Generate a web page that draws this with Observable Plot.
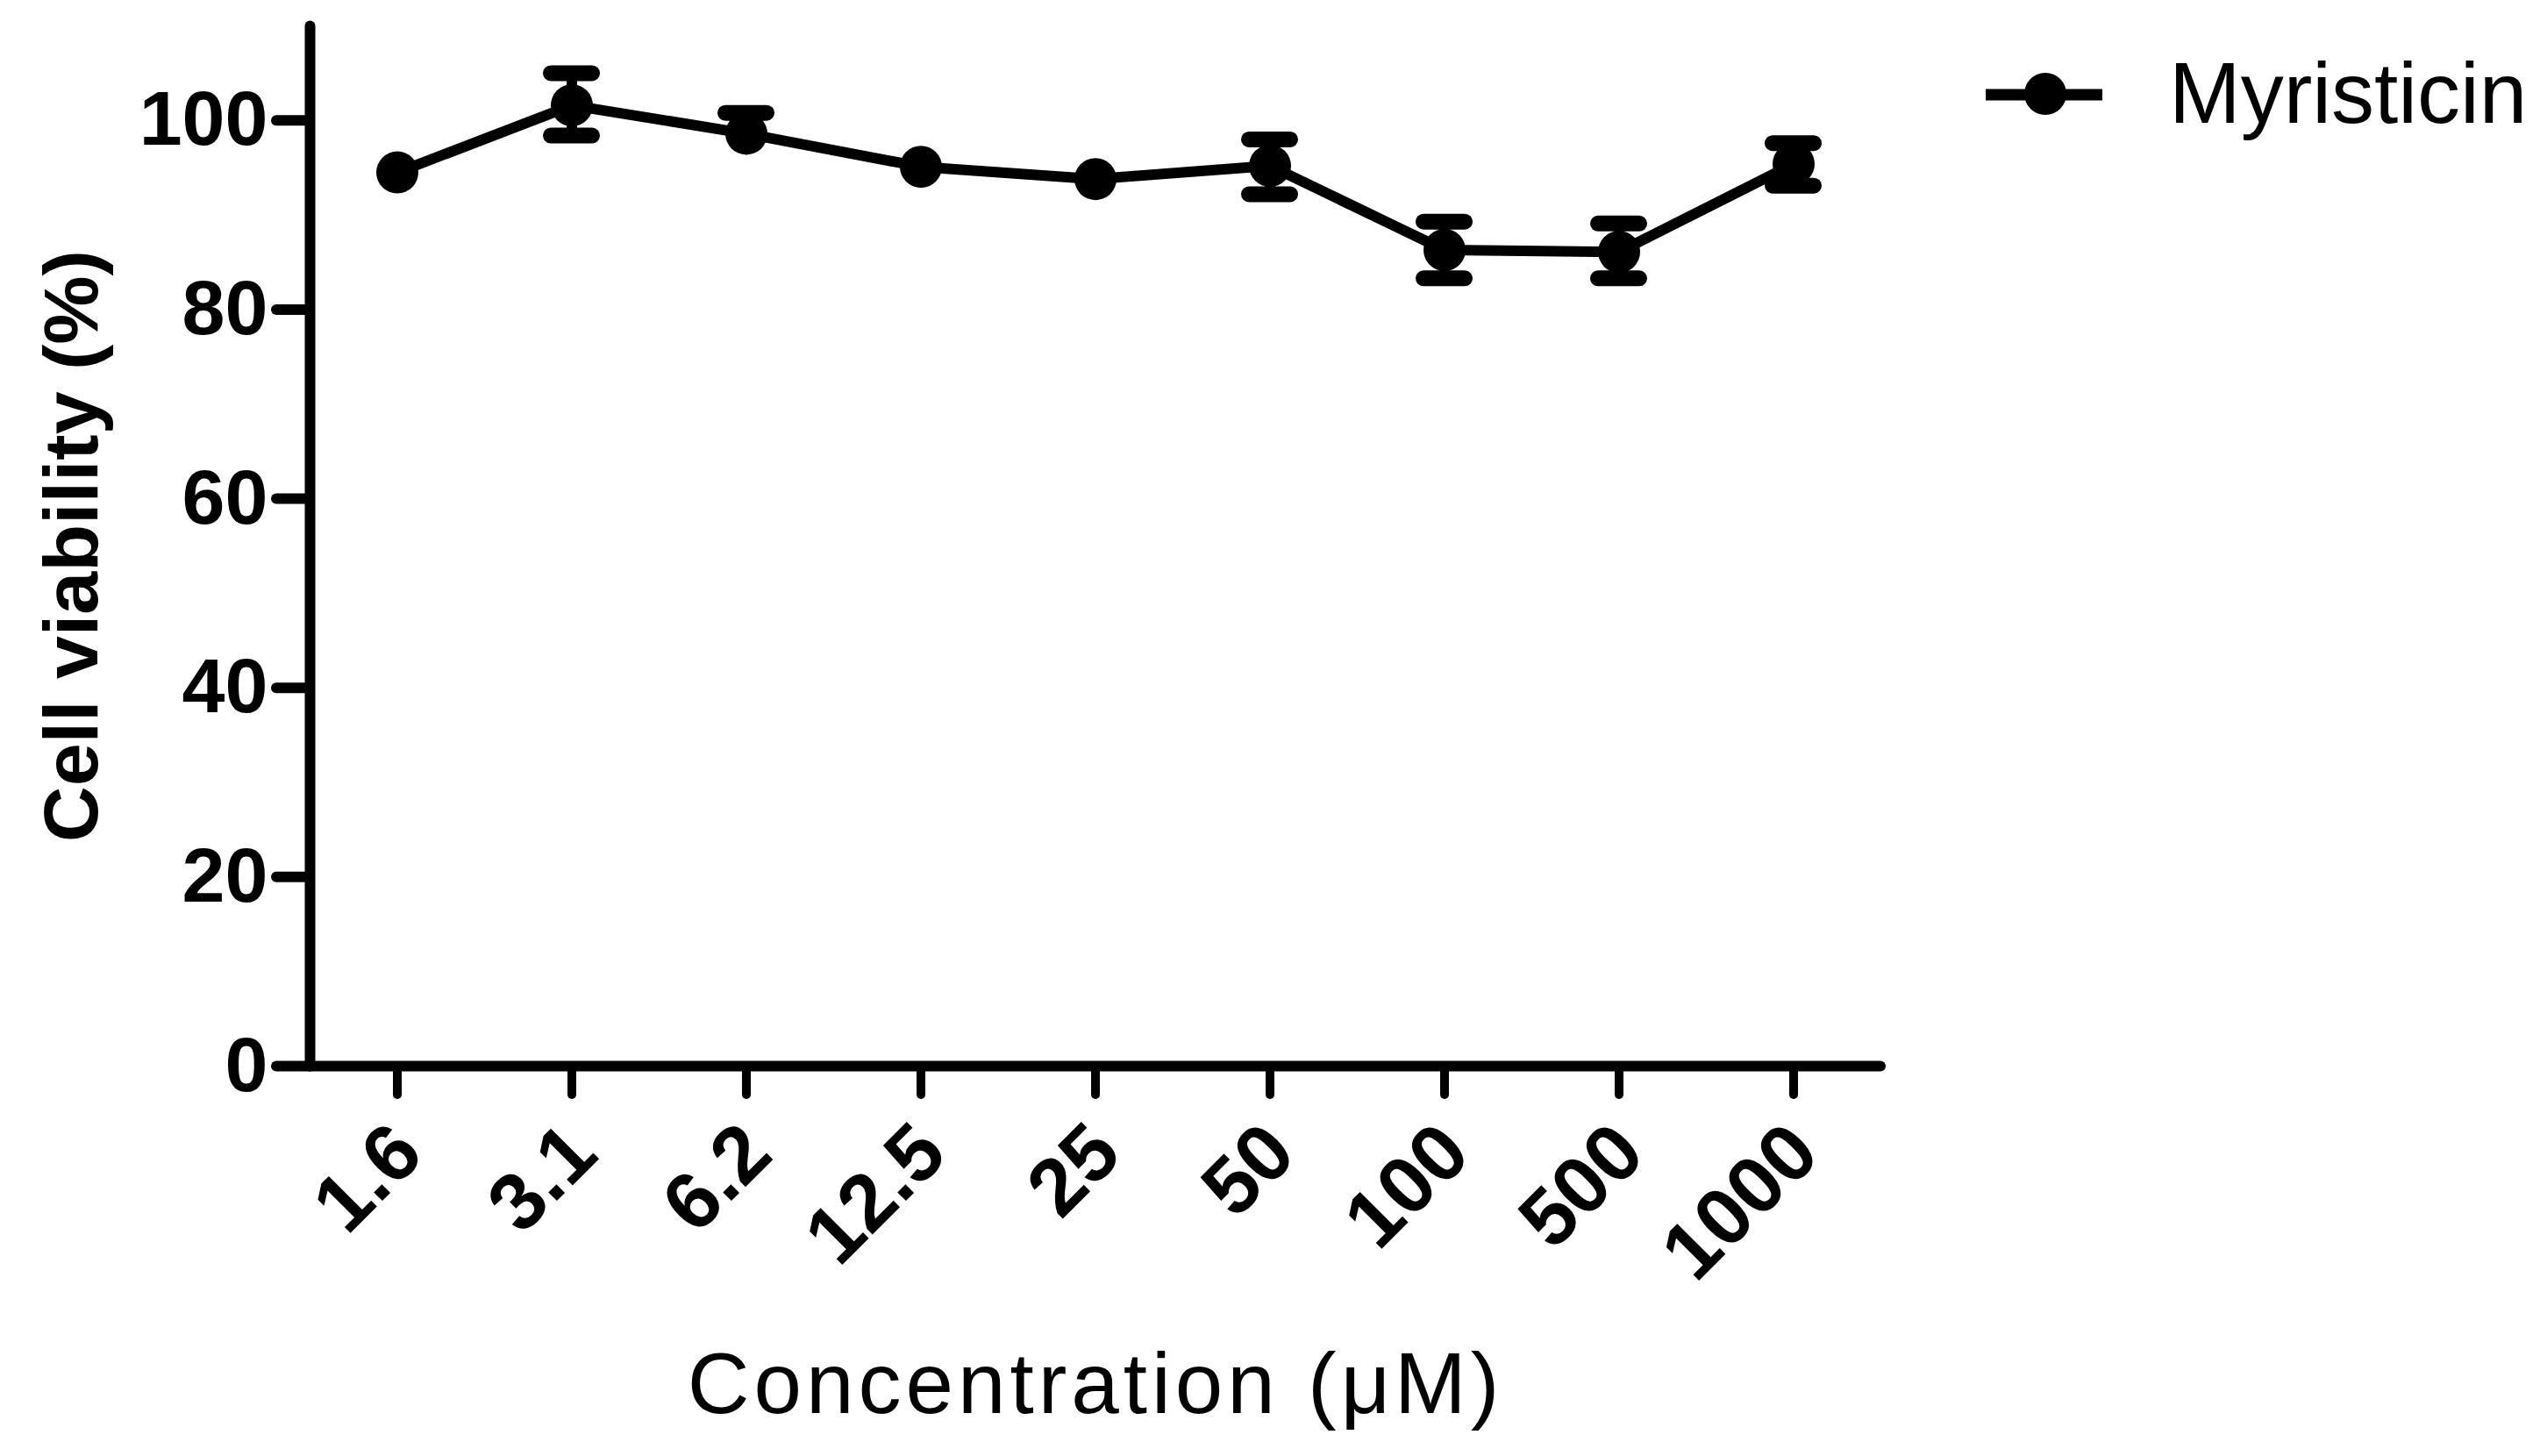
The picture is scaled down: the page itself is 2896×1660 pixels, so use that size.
<!DOCTYPE html>
<html>
<head>
<meta charset="utf-8">
<script src="https://cdn.jsdelivr.net/npm/d3@7"></script>
<script src="https://cdn.jsdelivr.net/npm/@observablehq/plot@0.6"></script>
<style>
  html, body { margin: 0; padding: 0; background: #fff; }
  #wrap { position: relative; width: 2896px; height: 1660px; overflow: hidden; }
  #wrap svg text { fill: #000; }
  g[aria-label="y-axis tick label"] text { font: bold 88px "Liberation Sans", Arial, sans-serif; }
  g[aria-label="x-axis tick label"] text { font: bold 92px "Liberation Sans", Arial, sans-serif; }
  g[aria-label="y-axis label"] text { font: bold 88px "Liberation Sans", Arial, sans-serif; }
  g[aria-label="x-axis label"] text { font: 98px "Liberation Sans", Arial, sans-serif; letter-spacing: 5px; }
  #legend { position: absolute; left: 2200px; top: 0; }
</style>
</head>
<body>
<div id="wrap"></div>
<script>
// Concentrations (µM) and cell viability (%)
const categories = ["1.6", "3.1", "6.2", "12.5", "25", "50", "100", "500", "1000"];
const viability  = [94.5, 101.6, 98.6, 95.1, 93.8, 95.2, 86.3, 86.1, 95.4];
const errUpper   = [94.5, 105.0, 100.8, 95.1, 93.8, 98.0, 89.3, 89.1, 97.6];
const errLower   = [94.5, 98.4, 98.6, 95.1, 93.8, 92.2, 83.3, 83.3, 93.1];
const yTicks     = [0, 20, 40, 60, 80, 100];
const seriesName = "Myristicin";

const rows = categories.map((c, i) => ({conc: c, v: viability[i], hi: errUpper[i], lo: errLower[i]}));
const upperCaps = rows.filter(d => d.hi - d.v > 0.5);
const lowerCaps = rows.filter(d => d.v - d.lo > 0.5);

const chart = Plot.plot({
  width: 2896,
  height: 1660,
  marginLeft: 353,
  marginRight: 752,
  marginTop: 29,
  marginBottom: 445,
  style: {fontFamily: "Liberation Sans, Arial, sans-serif", background: "white", color: "black", overflow: "visible"},
  x: {type: "band", domain: categories, padding: 0},
  y: {domain: [0, 110]},
  marks: [
    Plot.ruleX(rows, {x: "conc", y1: "lo", y2: "hi", stroke: "black", strokeWidth: 12}),
    Plot.tickY(upperCaps, {x: "conc", y: "hi", stroke: "black", strokeWidth: 18, strokeLinecap: "round", insetLeft: 76, insetRight: 76}),
    Plot.tickY(lowerCaps, {x: "conc", y: "lo", stroke: "black", strokeWidth: 18, strokeLinecap: "round", insetLeft: 76, insetRight: 76}),
    Plot.line(rows, {x: "conc", y: "v", stroke: "black", strokeWidth: 12}),
    Plot.dot(rows, {x: "conc", y: "v", r: 24, fill: "black", stroke: "none"}),
    Plot.ruleY([0], {stroke: "black", strokeWidth: 12, strokeLinecap: "round"}),
    Plot.frame({anchor: "left", stroke: "black", strokeWidth: 12, strokeLinecap: "round"}),
    Plot.axisY({
      ticks: yTicks, tickSize: 38, tickPadding: 10, stroke: "black", strokeWidth: 12, strokeLinecap: "round",
      fontSize: 88, fontWeight: "bold",
      label: "Cell viability (%)", labelAnchor: "center", labelOffset: 305, labelArrow: "none"
    }),
    // x tick marks
    Plot.axisX({
      tickSize: 33, tickFormat: () => "", stroke: "black", strokeWidth: 10, strokeLinecap: "round",
      label: null
    }),
    // x tick labels and title
    Plot.axisX({
      tickSize: 0, tickPadding: 83, tickRotate: -45, dx: 12,
      fontSize: 92, fontWeight: "bold",
      label: "Concentration (μM)", labelAnchor: "center", labelOffset: 395, labelArrow: "none"
    })
  ]
});

const wrap = document.getElementById("wrap");
wrap.appendChild(chart);

// Legend (top right)
const ns = "http://www.w3.org/2000/svg";
const leg = document.createElementNS(ns, "svg");
leg.setAttribute("id", "legend");
leg.setAttribute("width", 696);
leg.setAttribute("height", 200);
const ln = document.createElementNS(ns, "line");
ln.setAttribute("x1", 64); ln.setAttribute("x2", 197);
ln.setAttribute("y1", 108); ln.setAttribute("y2", 108);
ln.setAttribute("stroke", "black"); ln.setAttribute("stroke-width", 13);
leg.appendChild(ln);
const c = document.createElementNS(ns, "circle");
c.setAttribute("cx", 132); c.setAttribute("cy", 107); c.setAttribute("r", 24);
c.setAttribute("fill", "black");
leg.appendChild(c);
const t = document.createElementNS(ns, "text");
t.setAttribute("x", 273); t.setAttribute("y", 140);
t.setAttribute("font-family", "Liberation Sans, Arial, sans-serif");
t.setAttribute("font-size", 98);
t.setAttribute("fill", "black");
t.textContent = seriesName;
leg.appendChild(t);
wrap.appendChild(leg);
</script>
</body>
</html>
